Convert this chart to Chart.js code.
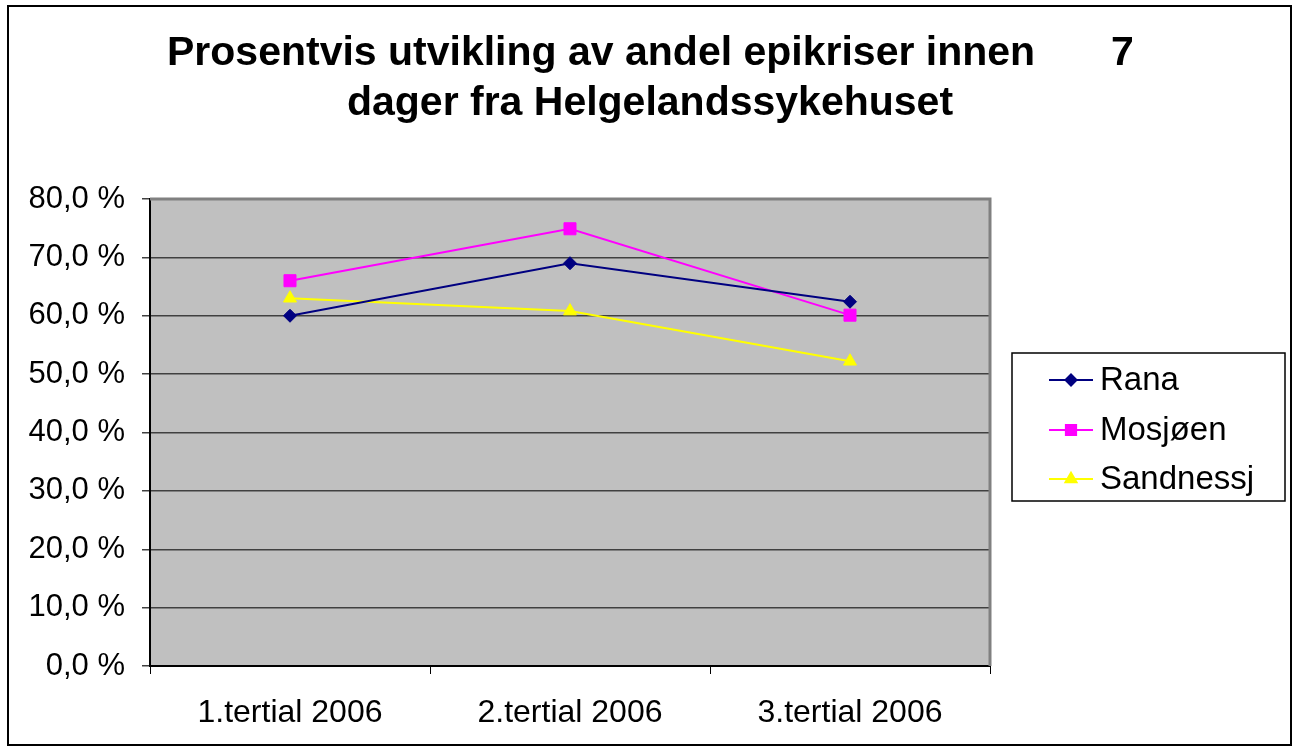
<!DOCTYPE html>
<html>
<head>
<meta charset="utf-8">
<script src="https://cdn.jsdelivr.net/npm/chart.js@4/dist/chart.umd.min.js"></script>
<style>
  body { margin: 0; background: #fff; }
  #wrap { width: 1293px; height: 747px; }
</style>
</head>
<body>
<div id="wrap"><canvas id="chart" width="1293" height="747"></canvas></div>
<script>
// data
const categories = ['1.tertial 2006', '2.tertial 2006', '3.tertial 2006'];
const seriesNames = ['Rana', 'Mosjøen', 'Sandnessj'];
const rana = [60.0, 69.0, 62.4];
const mosjoen = [66.0, 74.9, 60.1];
const sandnessj = [63.0, 60.8, 52.2];
const titleLines = ['Prosentvis utvikling av andel epikriser innen', 'dager fra Helgelandssykehuset'];
const titleTail = '7';

const colors = ['#000080', '#FF00FF', '#FFFF00'];
const markers = ['rectRot', 'rect', 'triangle'];
const markerSize = [6.5, 8.5, 7.5];

function makeSet(i, values) {
    return {
        label: seriesNames[i],
        data: values,
        borderColor: colors[i],
        backgroundColor: colors[i],
        borderWidth: 2,
        pointStyle: markers[i],
        pointRadius: markerSize[i],
        pointBorderWidth: 1,
        pointBackgroundColor: colors[i],
        pointBorderColor: colors[i],
        tension: 0
    };
}

// plot background, frame, title and legend box
const decor = {
    id: 'decor',
    beforeDraw(chart) {
        const { ctx, chartArea: a } = chart;
        ctx.save();
        ctx.fillStyle = '#C0C0C0';
        ctx.fillRect(a.left, a.top, a.right - a.left, a.bottom - a.top);
        ctx.restore();
    },
    beforeDatasetsDraw(chart) {
        const { ctx, chartArea: a } = chart;
        ctx.save();
        ctx.strokeStyle = '#808080';
        ctx.lineWidth = 3;
        ctx.beginPath();
        ctx.moveTo(a.left, a.top);
        ctx.lineTo(a.right, a.top);
        ctx.lineTo(a.right, a.bottom);
        ctx.stroke();
        ctx.restore();
    },
    afterDraw(chart) {
        const ctx = chart.ctx;
        ctx.save();
        // outer frame
        ctx.strokeStyle = '#000';
        ctx.lineWidth = 2;
        ctx.strokeRect(8, 6, 1283, 739);

        // title
        ctx.fillStyle = '#000';
        ctx.font = 'bold 41px "Liberation Sans", Arial, sans-serif';
        ctx.textBaseline = 'alphabetic';
        ctx.textAlign = 'left';
        ctx.fillText(titleLines[0], 167, 65);
        ctx.fillText(titleTail, 1111, 65);
        ctx.textAlign = 'center';
        ctx.fillText(titleLines[1], 650, 115);

        // legend
        ctx.strokeStyle = '#000';
        ctx.lineWidth = 1.5;
        ctx.strokeRect(1012, 353, 273, 148);
        ctx.font = '33px "Liberation Sans", Arial, sans-serif';
        const rowY = [380, 430, 479];
        chart.data.datasets.forEach((ds, i) => {
            const y = rowY[i];
            ctx.strokeStyle = ds.borderColor;
            ctx.lineWidth = 2;
            ctx.beginPath();
            ctx.moveTo(1049, y);
            ctx.lineTo(1093, y);
            ctx.stroke();
            ctx.fillStyle = ds.backgroundColor;
            Chart.helpers.drawPoint(ctx, {
                pointStyle: ds.pointStyle,
                radius: ds.pointRadius * 0.85,
                rotation: 0,
                borderWidth: 1
            }, 1071, y);
            ctx.fillStyle = '#000';
            ctx.textAlign = 'left';
            ctx.textBaseline = 'middle';
            ctx.fillText(ds.label, 1100, y + 1);
        });
        ctx.restore();
    }
};

new Chart(document.getElementById('chart'), {
    type: 'line',
    data: {
        labels: categories,
        datasets: [makeSet(0, rana), makeSet(1, mosjoen), makeSet(2, sandnessj)]
    },
    options: {
        responsive: false,
        animation: false,
        layout: { padding: { top: 199, right: 303, left: 0, bottom: 0 } },
        plugins: {
            legend: { display: false },
            title: { display: false },
            tooltip: { enabled: false }
        },
        scales: {
            x: {
                type: 'category',
                offset: true,
                afterFit(scale) { scale.height = 81; },
                grid: {
                    offset: true,
                    drawOnChartArea: false,
                    drawTicks: true,
                    tickLength: 8,
                    color: '#000',
                    lineWidth: 1
                },
                border: { color: '#000', width: 2 },
                ticks: {
                    color: '#000',
                    padding: 20,
                    maxRotation: 0,
                    font: { family: '"Liberation Sans", Arial, sans-serif', size: 32 }
                }
            },
            y: {
                min: 0,
                max: 80,
                afterFit(scale) { scale.width = 150; },
                grid: {
                    color: '#404040',
                    lineWidth: 1.5,
                    drawTicks: true,
                    tickLength: 8
                },
                border: { color: '#000', width: 2 },
                ticks: {
                    stepSize: 10,
                    color: '#000',
                    padding: 17,
                    font: { family: '"Liberation Sans", Arial, sans-serif', size: 31 },
                    callback: v => v.toFixed(1).replace('.', ',') + ' %'
                }
            }
        }
    },
    plugins: [decor]
});
</script>
</body>
</html>
